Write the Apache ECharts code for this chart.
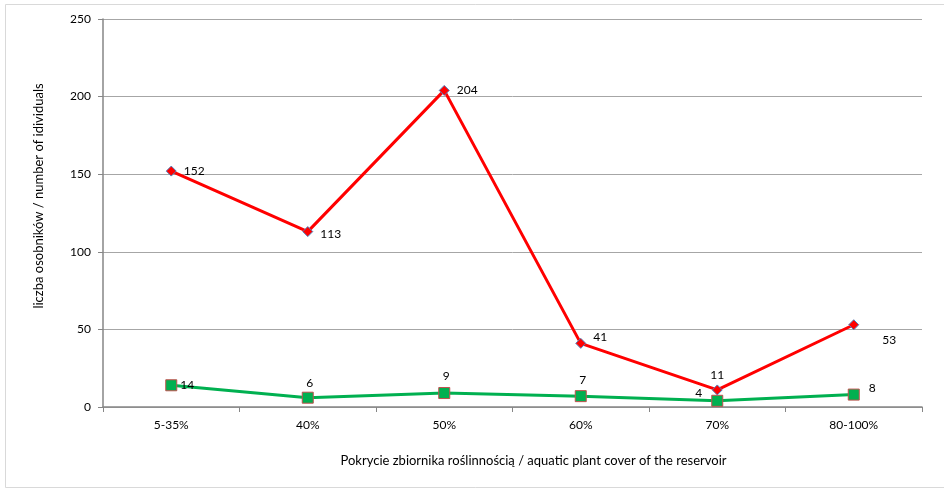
<!DOCTYPE html>
<html>
<head>
<meta charset="utf-8">
<script src="https://cdn.jsdelivr.net/npm/echarts@6/dist/echarts.min.js"></script>
<style>
  html, body { margin: 0; padding: 0; background: #fff; }
  #chart { width: 944px; height: 490px; }
</style>
</head>
<body>
<div id="chart"></div>
<script>
// Plant cover classes and individual counts per class
const categories = ['5-35%', '40%', '50%', '60%', '70%', '80-100%'];
const redCounts = [152, 113, 204, 41, 11, 53];
const greenCounts = [14, 6, 9, 7, 4, 8];
const yTicks = [0, 50, 100, 150, 200, 250];

// Label placement per point
const redLabelPos = ['right', 'right', 'right', 'right', 'top', 'right'];
const redLabelOffset = [[2, 0], [2, 3], [2, 0], [2, -6], [0, 2], [18, 15]];
const greenLabelPos = ['right', 'top', 'top', 'top', 'left', 'right'];
const greenLabelOffset = [[-2, 0], [2, 2], [2, 0], [2, 1], [-4, -8], [4, -6]];

const FONT = 'Lato, "Liberation Sans", sans-serif';

function buildData(values, pos, off) {
  return values.map((v, i) => ({
    value: v,
    label: { position: pos[i], offset: off[i] }
  }));
}

const chart = echarts.init(document.getElementById('chart'), null, { renderer: 'canvas' });
chart.setOption({
  animation: false,
  backgroundColor: '#fff',
  graphic: [{
    type: 'rect',
    shape: { x: 5.5, y: 4.5, width: 960, height: 483 },
    style: { fill: 'none', stroke: '#d9d9d9', lineWidth: 1 },
    silent: true
  }],
  grid: { left: 103, right: 22, top: 19, bottom: 83, containLabel: false },
  xAxis: {
    type: 'category',
    data: categories,
    boundaryGap: true,
    name: 'Pokrycie zbiornika roślinnością / aquatic plant cover of the reservoir',
    nameLocation: 'middle',
    nameGap: 47,
    nameTextStyle: { fontFamily: FONT, fontSize: 13, color: '#000', padding: [0, 0, 0, 42] },
    axisLine: { lineStyle: { color: '#868686', width: 1.5 } },
    axisTick: { show: true, alignWithLabel: false, length: 5, lineStyle: { color: '#868686' } },
    axisLabel: { fontFamily: FONT, fontSize: 12, color: '#000', margin: 12 },
    splitLine: { show: false }
  },
  yAxis: {
    type: 'value',
    min: yTicks[0],
    max: yTicks[yTicks.length - 1],
    interval: 50,
    name: 'liczba osobników / number of idividuals',
    nameLocation: 'middle',
    nameGap: 58,
    nameTextStyle: { fontFamily: FONT, fontSize: 13, color: '#000', padding: [0, 0, 0, 34] },
    axisLine: { show: true, lineStyle: { color: '#868686', width: 1.5 } },
    axisTick: { show: true, length: 5, lineStyle: { color: '#868686' } },
    axisLabel: { fontFamily: FONT, fontSize: 12, color: '#000', margin: 12 },
    splitLine: { show: true, lineStyle: { color: '#a6a6a6', width: 1 } }
  },
  series: [
    {
      type: 'line',
      data: buildData(redCounts, redLabelPos, redLabelOffset),
      symbol: 'diamond',
      symbolSize: 10,
      lineStyle: { color: '#ff0000', width: 3 },
      itemStyle: { color: '#ff0000', borderColor: '#4f81bd', borderWidth: 1 },
      label: { show: true, fontFamily: FONT, fontSize: 12, color: '#000' },
      z: 3
    },
    {
      type: 'line',
      data: buildData(greenCounts, greenLabelPos, greenLabelOffset),
      symbol: 'rect',
      symbolSize: 11,
      lineStyle: { color: '#00b050', width: 3 },
      itemStyle: { color: '#00b050', borderColor: '#c0504d', borderWidth: 1 },
      label: { show: true, fontFamily: FONT, fontSize: 12, color: '#000' },
      z: 2
    }
  ]
});
</script>
</body>
</html>
